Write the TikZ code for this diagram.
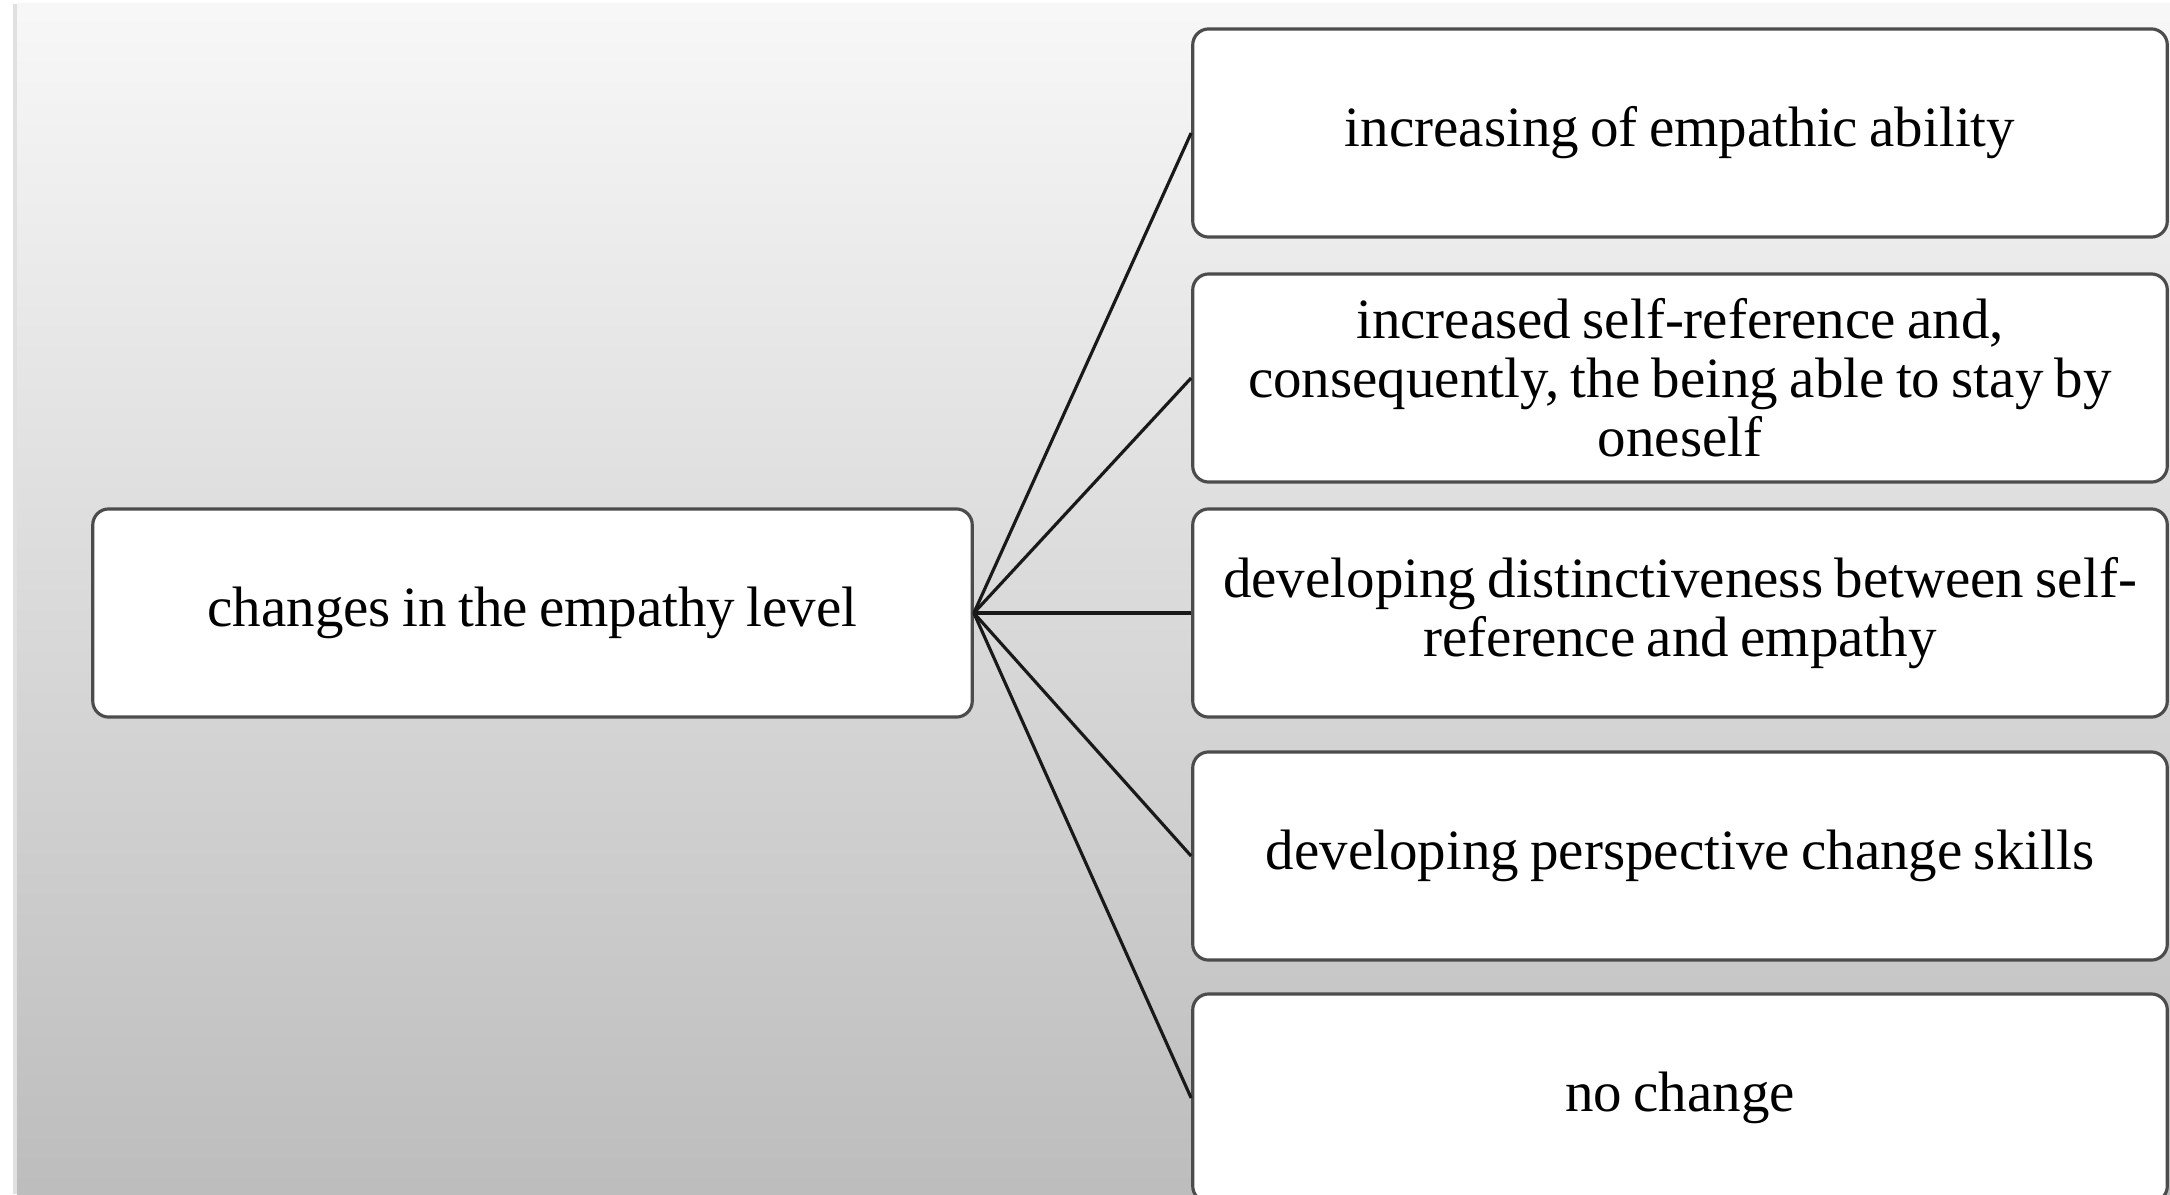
\documentclass[tikz,border=0pt]{standalone}
\usepackage{fontspec}
\setmainfont{Liberation Serif}
\newcommand{\boxfont}{\fontsize{16.2pt}{16.8pt}\selectfont\spaceskip=0.2em\relax}
\begin{document}
\begin{tikzpicture}[x=0.01cm,y=-0.01cm,
  box/.style={draw=black!70, line width=0.9pt, fill=white, rounded corners=0.16cm,
    minimum height=2.08cm, align=center, inner sep=0pt, font=\boxfont},
  leaf/.style={box, minimum width=9.74cm},
  link/.style={draw=black!90, line width=0.9pt}]
  \useasboundingbox (0,0) rectangle (2170,1194);
  \clip (0,0) rectangle (2170,1194);
  % page background with a soft left edge
  \fill[white] (0,0) rectangle (2170,1194);
  \fill[black!12] (13,4) rectangle (17,1194);
  \shade[top color=black!3, bottom color=black!26] (17,4) rectangle (2170,1194);

  % root
  \node[box, minimum width=8.79cm] (root) at (532.5,613) {changes in the empathy level};

  % outcomes
  \node[leaf] (o1) at (1680,133) {increasing of empathic ability};
  \node[leaf] (o2) at (1680,378) {increased self-reference and,\\consequently, the being able to stay by\\oneself};
  \node[leaf] (o3) at (1680,613) {developing distinctiveness between self-\\reference and empathy};
  \node[leaf] (o4) at (1680,856) {developing perspective change skills};
  \node[leaf] (o5) at (1680,1098) {no change};

  \foreach \n in {o1,o2,o3,o4,o5}
    \draw[link] (root.east) -- (\n.west);
\end{tikzpicture}
\end{document}
